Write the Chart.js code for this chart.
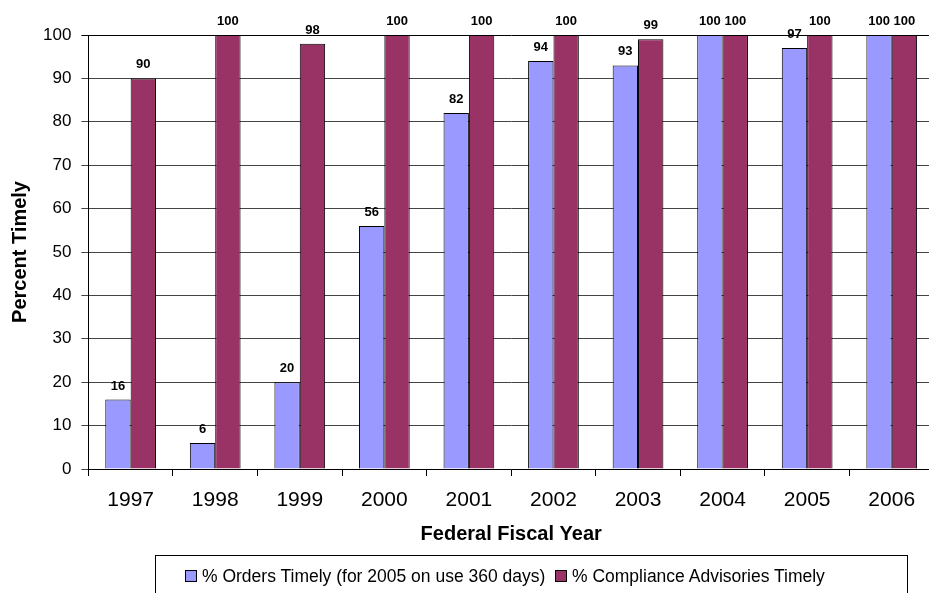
<!DOCTYPE html>
<html>
<head>
<meta charset="utf-8">
<script src="https://cdn.jsdelivr.net/npm/chart.js@4"></script>
<style>
  html, body { margin: 0; padding: 0; background: #fff; overflow: hidden; }
  #wrap { position: relative; width: 940px; height: 593px; }
  #legend {
    position: absolute; left: 155px; top: 555px; width: 753px; height: 44px;
    border: 1px solid #000; box-sizing: border-box;
    font: 17.5px "Liberation Sans", Arial, sans-serif; color: #000;
  }
  #legend span.item { position: absolute; top: 10px; white-space: nowrap; }
  #legend i { display: inline-block; width: 10px; height: 10px; border: 1px solid #000; margin-right: 5px; vertical-align: 0px; }
</style>
</head>
<body>
<div id="wrap">
  <canvas id="chart" width="940" height="593"></canvas>
  <div id="legend"></div>
</div>
<script>
// --- Data ---
const years = ['1997', '1998', '1999', '2000', '2001', '2002', '2003', '2004', '2005', '2006'];
const ordersTimely = [16, 6, 20, 56, 82, 94, 93, 100, 97, 100];
const advisoriesTimely = [90, 100, 98, 100, 100, 100, 99, 100, 100, 100];
const seriesNames = ['% Orders Timely (for 2005 on use 360 days)', '% Compliance Advisories Timely'];
const seriesColors = ['#9999ff', '#993366'];

const FONT = '"Liberation Sans", Arial, sans-serif';

// value labels drawn above each bar
const barLabels = {
    id: 'barLabels',
    afterDatasetsDraw(chart) {
        const ctx = chart.ctx;
        ctx.save();
        ctx.font = 'bold 13px ' + FONT;
        ctx.fillStyle = '#000';
        ctx.textAlign = 'center';
        ctx.textBaseline = 'alphabetic';
        chart.data.datasets.forEach((ds, di) => {
            chart.getDatasetMeta(di).data.forEach((bar, i) => {
                ctx.fillText(ds.data[i], bar.x, bar.y - 10);
            });
        });
        ctx.restore();
    }
};

const ctx = document.getElementById('chart').getContext('2d');
new Chart(ctx, {
    type: 'bar',
    data: {
        labels: years,
        datasets: [
            { label: seriesNames[0], data: ordersTimely, backgroundColor: seriesColors[0], borderColor: '#000', borderWidth: 1 },
            { label: seriesNames[1], data: advisoriesTimely, backgroundColor: seriesColors[1], borderColor: '#000', borderWidth: 1 }
        ]
    },
    options: {
        responsive: false,
        animation: false,
        layout: { padding: { top: 35, right: 6, bottom: 50, left: 8 } },
        datasets: { bar: { categoryPercentage: 0.6, barPercentage: 1.0 } },
        plugins: { legend: { display: false }, tooltip: { enabled: false } },
        scales: {
            x: {
                grid: { offset: true, drawOnChartArea: false, color: '#000', tickLength: 7 },
                border: { color: '#000' },
                ticks: { color: '#000', font: { family: FONT, size: 21, lineHeight: 1.0 }, padding: 14 },
                title: { display: true, text: 'Federal Fiscal Year', color: '#000', font: { family: FONT, size: 20, weight: 'bold', lineHeight: 0.9 }, padding: { top: 0, bottom: 0 } }
            },
            y: {
                min: 0, max: 100,
                ticks: { stepSize: 10, color: '#000', font: { family: FONT, size: 17 }, padding: 10 },
                grid: { color: (c) => c.tick && c.tick.value === 100 ? '#000' : '#444', tickLength: 7 },
                border: { color: '#000' },
                title: { display: true, text: 'Percent Timely', color: '#000', font: { family: FONT, size: 20, weight: 'bold' }, padding: { top: 0, bottom: 1 } }
            }
        }
    },
    plugins: [barLabels]
});

// HTML legend
const legend = document.getElementById('legend');
const legendX = [29, 399];
seriesNames.forEach((name, i) => {
    const s = document.createElement('span');
    s.className = 'item';
    s.style.left = legendX[i] + 'px';
    s.innerHTML = '<i style="background:' + seriesColors[i] + '"></i>' + name;
    legend.appendChild(s);
});
</script>
</body>
</html>
